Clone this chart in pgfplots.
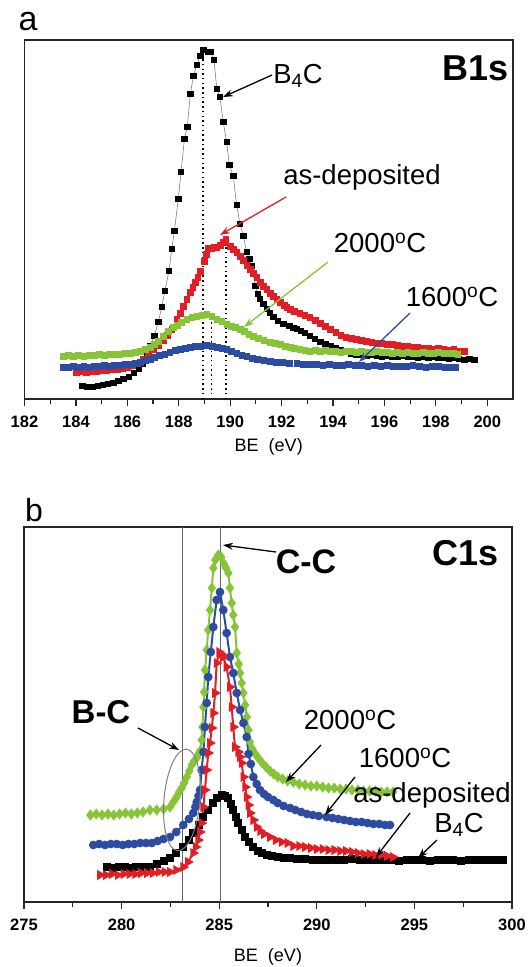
\documentclass[border=0pt]{standalone}
\usepackage{pgfplots}
\pgfplotsset{compat=1.18}
\usepackage{fontspec}
\setmainfont{Liberation Sans}
\usetikzlibrary{arrows.meta}

\definecolor{cred}{RGB}{225,30,35}
\definecolor{cgreen}{RGB}{135,196,55}
\definecolor{cblue}{RGB}{45,75,160}

\pgfplotsset{
  xps/.style={
    scale only axis,
    axis line style={line width=1.3pt, black!85},
    ytick=\empty,
    xtick pos=left,
    xtick align=outside,
    major tick length=7pt,
    minor tick length=5pt,
    tick style={line width=1.2pt, black!85},
    minor x tick num=1,
    xticklabel style={font=\bfseries\fontsize{16.5}{18}\selectfont, yshift=-16pt, anchor=center},
    /pgf/number format/1000 sep={},
    /pgf/number format/assume math mode=true,
    xlabel style={font=\fontsize{18}{20}\selectfont, at={(axis description cs:0.5,0)}, anchor=center},
  },
}

\newcommand{\lbl}{\fontsize{27.5}{29}\selectfont}
\newcommand{\bigbold}{\bfseries\fontsize{36}{38}\selectfont}

\begin{document}
\begin{tikzpicture}
\path[use as bounding box] (0,0) rectangle (531pt,-967pt);

% ---------------- panel a: B1s ----------------
\begin{axis}[xps,
  at={(24.5pt,-40pt)}, anchor=north west,
  width=488.5pt, height=359pt,
  xmin=182, xmax=201, ymin=0, ymax=359,
  xtick={182,184,...,200},
  xlabel={BE\ \ (eV)},
  xlabel style={yshift=-48pt},
]
% B4C
\addplot[gray, line width=0.6pt, mark=square*, mark size=2.7pt,
  mark options={black, solid}] coordinates {
(184.25,13) (184.45,12) (184.65,12) (184.85,13) (185.05,14) (185.25,15)
(185.45,16) (185.65,18) (185.85,20) (186.05,22) (186.25,26) (186.45,30)
(186.6,35) (186.75,44) (186.88,53) (187.05,63) (187.2,77) (187.34,92)
(187.46,108) (187.62,128) (187.73,150) (187.83,168) (187.98,200) (188.09,227)
(188.22,260) (188.33,272) (188.45,305) (188.57,323) (188.70,334) (188.83,343)
(188.95,349) (189.15,347) (189.25,347) (189.37,339) (189.48,310) (189.60,302)
(189.73,277) (189.86,257) (189.97,234) (190.12,223) (190.25,194) (190.38,175)
(190.51,163) (190.64,147) (190.75,140) (190.84,133) (190.97,113) (191.07,105)
(191.16,100) (191.29,95) (191.42,90) (191.55,86) (191.68,82) (191.85,78)
(192.07,75) (192.3,73) (192.45,71) (192.59,70) (192.75,68) (192.9,66)
(193.1,63) (193.3,60) (193.5,57) (193.7,55) (193.9,53) (194.1,51)
(194.3,49) (194.5,47) (194.7,45) (194.9,44) (195.1,44) (195.3,43)
(195.5,44) (195.7,43) (195.9,42) (196.1,43) (196.3,42) (196.5,42)
(196.7,43) (196.9,42) (197.1,42) (197.3,41) (197.5,42) (197.7,41)
(197.9,42) (198.1,41) (198.3,41) (198.5,40) (198.7,41) (198.9,40)
(199.1,39) (199.3,40) (199.5,39)
};
% as-deposited
\addplot[only marks, mark=square*, mark size=2.8pt, cred] coordinates {
(184.0,27) (184.2,28) (184.4,27) (184.6,28) (184.8,28) (185.0,29)
(185.2,29) (185.4,30) (185.6,30) (185.8,31) (186.0,32) (186.2,34)
(186.4,36) (186.6,40) (186.8,45) (187.0,50) (187.2,54) (187.4,59)
(187.55,64) (187.73,70) (187.92,80) (188.05,86) (188.18,93) (188.31,100)
(188.44,107) (188.54,112) (188.63,117) (188.73,122) (188.83,128) (188.98,138)
(189.07,145) (189.15,151) (189.25,151) (189.37,152) (189.48,152) (189.6,154)
(189.72,157) (189.83,160) (190.0,153) (190.12,150) (190.25,147) (190.38,143)
(190.51,139) (190.64,134) (190.77,130) (190.9,126) (191.03,122) (191.16,117)
(191.29,113) (191.42,110) (191.55,106) (191.68,103) (191.81,100) (191.95,97)
(192.1,94) (192.2,92) (192.33,90) (192.5,88) (192.7,86) (192.9,84)
(193.1,82) (193.3,79) (193.5,76) (193.7,73) (193.9,70) (194.1,67)
(194.3,64) (194.5,62) (194.7,61) (194.9,60) (195.1,59) (195.3,58)
(195.5,57) (195.7,56) (195.9,56) (196.1,55) (196.3,55) (196.5,54)
(196.7,53) (196.9,53) (197.1,52) (197.3,52) (197.5,51) (197.7,51)
(197.9,50) (198.1,51) (198.3,50) (198.5,49) (198.7,50) (198.9,48)
(199.1,48)
};
% 2000 C
\addplot[only marks, mark=square*, mark size=2.8pt, cgreen] coordinates {
(183.5,43) (183.7,44) (183.9,43) (184.1,44) (184.3,43) (184.5,44)
(184.7,44) (184.9,45) (185.1,44) (185.3,45) (185.5,45) (185.7,45)
(185.9,46) (186.1,46) (186.3,47) (186.5,48) (186.7,50) (186.88,52)
(187.05,55) (187.2,58) (187.4,63) (187.6,68) (187.79,72) (187.95,74)
(188.1,77) (188.31,80) (188.5,82) (188.7,83) (188.9,84) (189.09,85)
(189.28,83) (189.48,80) (189.67,78) (189.86,75) (190.05,73) (190.2,72)
(190.38,70) (190.55,68) (190.72,65) (190.9,63) (191.1,61) (191.3,59)
(191.55,57) (191.75,56) (191.95,55) (192.15,53) (192.33,52) (192.5,51)
(192.7,50) (192.9,49) (193.1,48) (193.3,49) (193.5,48) (193.7,49)
(193.9,48) (194.1,48) (194.3,47) (194.5,48) (194.7,48) (194.9,47)
(195.1,48) (195.3,47) (195.5,47) (195.7,48) (195.9,47) (196.1,47)
(196.3,46) (196.5,47) (196.7,46) (196.9,47) (197.1,46) (197.3,46)
(197.5,47) (197.7,46) (197.9,46) (198.1,47) (198.3,46) (198.5,46)
(198.7,46) (198.85,45)
};
% 1600 C
\addplot[only marks, mark=square*, mark size=2.8pt, cblue] coordinates {
(183.5,32) (183.7,32) (183.9,33) (184.1,32) (184.3,33) (184.5,32)
(184.7,33) (184.9,33) (185.1,34) (185.3,33) (185.5,34) (185.7,34)
(185.9,35) (186.1,35) (186.3,36) (186.5,37) (186.7,39) (186.88,40)
(187.05,42) (187.25,44) (187.45,45) (187.65,47) (187.85,49) (188.05,50)
(188.25,51) (188.44,52) (188.65,53) (188.85,53) (189.09,54) (189.3,53)
(189.5,52) (189.68,51) (189.86,50) (190.05,48) (190.25,46) (190.45,44)
(190.64,43) (190.85,41) (191.05,40) (191.3,39) (191.55,38) (191.8,37)
(192.05,37) (192.3,36) (192.59,36) (192.85,35) (193.1,35) (193.35,35)
(193.6,34) (193.85,35) (194.1,34) (194.35,34) (194.6,35) (194.85,34)
(195.1,34) (195.35,33) (195.6,34) (195.85,33) (196.1,34) (196.35,33)
(196.6,33) (196.85,33) (197.1,34) (197.35,33) (197.6,32) (197.85,33)
(198.1,33) (198.35,32) (198.6,32) (198.75,32)
};
% peak positions
\addplot[black, line width=1.5pt, dash pattern=on 1.5pt off 3.2pt] coordinates {(188.95,0) (188.95,345)};
\addplot[black, line width=1.5pt, dash pattern=on 1.5pt off 3.2pt] coordinates {(189.28,0) (189.28,86)};
\addplot[black, line width=1.5pt, dash pattern=on 1.5pt off 3.2pt] coordinates {(189.83,0) (189.83,158)};
\end{axis}

\node[font=\fontsize{34}{36}\selectfont] at (28pt,-22pt) {a};
\node[font=\bigbold] at (476pt,-68pt) {B1s};
\node[font=\lbl] at (298pt,-76pt) {B\textsubscript{4}C};
\node[font=\lbl] at (362pt,-177pt) {as-deposited};
\node[font=\lbl] at (380pt,-243pt) {2000\textsuperscript{o}C};
\node[font=\lbl] at (452pt,-297pt) {1600\textsuperscript{o}C};
\draw[black, line width=1.3pt, -{Stealth[length=10pt,width=7pt]}] (272pt,-75pt) -- (223pt,-97pt);
\draw[cred, line width=1.3pt, -{Stealth[length=10pt,width=7pt]}] (286pt,-197pt) -- (220pt,-235pt);
\draw[cgreen, line width=1.3pt, -{Stealth[length=10pt,width=7pt]}] (328pt,-262pt) -- (244pt,-327pt);
\draw[cblue, line width=1.3pt, -{Stealth[length=10pt,width=7pt]}] (410pt,-313pt) -- (359pt,-362pt);

% ---------------- panel b: C1s ----------------
\begin{axis}[xps,
  at={(24pt,-527pt)}, anchor=north west,
  width=488pt, height=375pt,
  xmin=275, xmax=300, ymin=0, ymax=375,
  xtick={275,280,...,300},
  xlabel={BE\ \ (eV)},
  xlabel style={yshift=-55pt},
]
\addplot[gray!80!black, line width=0.8pt] coordinates {(283.1,0) (283.1,375)};
\addplot[gray!80!black, line width=0.8pt] coordinates {(285.05,0) (285.05,375)};
% 2000 C
\addplot[cgreen, line width=2pt, mark=diamond*, mark size=4pt] coordinates {
(278.4,87) (278.7,88) (279.0,87) (279.3,88) (279.6,87) (279.9,88)
(280.2,89) (280.5,88) (280.8,89) (281.1,90) (281.45,92) (281.8,92)
(282.15,93) (282.48,95) (282.65,100) (282.82,105) (282.95,110) (283.08,114)
(283.2,119) (283.34,125) (283.47,131) (283.59,137) (283.72,141) (283.85,144)
(283.94,148) (284.02,151) (284.1,162) (284.14,175) (284.19,195) (284.23,210)
(284.27,232) (284.36,252) (284.44,272) (284.53,292) (284.62,314) (284.7,334)
(284.8,342) (284.95,347) (285.1,345) (285.25,338) (285.35,334) (285.47,329)
(285.55,314) (285.64,299) (285.72,287) (285.81,275) (285.9,249) (286.0,238)
(286.07,229) (286.15,219) (286.24,209) (286.33,197) (286.41,185) (286.5,172)
(286.58,160) (286.7,153) (286.85,148) (287.0,144) (287.2,139) (287.4,135)
(287.6,131) (287.8,128) (288.0,125) (288.25,123) (288.5,121) (288.8,120)
(289.1,118) (289.4,117) (289.7,116) (290.0,116) (290.3,115) (290.6,114)
(290.9,114) (291.2,113) (291.5,113) (291.8,112) (292.1,112) (292.4,111)
(292.7,111) (293.0,111) (293.3,110) (293.6,110) (293.9,110)
};
% 1600 C
\addplot[cblue, line width=2pt, mark=*, mark size=3.3pt] coordinates {
(278.55,57) (278.85,58) (279.15,57) (279.45,58) (279.75,58) (280.05,57)
(280.35,58) (280.65,58) (280.95,59) (281.25,59) (281.55,59) (281.85,61)
(282.15,63) (282.48,65) (282.8,70) (283.16,77) (283.45,83) (283.67,89)
(283.78,95) (283.85,100) (283.94,106) (284.02,112) (284.1,132) (284.19,150)
(284.27,175) (284.36,199) (284.44,225) (284.57,250) (284.7,275) (284.87,302)
(285.04,310) (285.21,292) (285.38,269) (285.55,245) (285.72,229) (285.9,209)
(286.07,192) (286.24,179) (286.41,165) (286.5,148) (286.62,138) (286.75,125)
(286.92,118) (287.09,112) (287.3,108) (287.5,105) (287.77,102) (288.0,99)
(288.3,96) (288.63,94) (288.9,92) (289.2,90) (289.5,88) (289.8,87)
(290.1,86) (290.5,85) (290.8,84) (291.1,83) (291.4,82) (291.7,81)
(292.0,80) (292.3,80) (292.6,79) (292.9,78) (293.2,78) (293.5,77)
(293.75,77)
};
% B4C
\addplot[black, line width=2pt, mark=square*, mark size=3pt] coordinates {
(279.25,35) (279.55,34) (279.85,35) (280.15,35) (280.45,34) (280.75,35)
(281.05,35) (281.45,35) (281.8,38) (282.15,41) (282.48,44) (282.8,49)
(283.16,55) (283.45,62) (283.67,69) (283.95,77) (284.19,85) (284.45,92)
(284.7,99) (284.9,104) (285.13,107) (285.3,106) (285.47,104) (285.6,98)
(285.72,92) (285.85,85) (285.98,79) (286.15,72) (286.32,65) (286.55,60)
(286.75,55) (287.0,51) (287.2,49) (287.43,47) (287.7,46) (288.0,45)
(288.3,44) (288.63,44) (289.0,43) (289.4,43) (289.8,42) (290.2,42)
(290.6,42) (291.0,42) (291.4,42) (291.8,43) (292.2,42) (292.6,42)
(293.0,42) (293.4,42) (293.8,42) (294.2,41) (294.6,42) (295.0,42)
(295.4,42) (295.8,41) (296.2,42) (296.6,42) (297.0,42) (297.4,41)
(297.8,42) (298.2,42) (298.6,42) (299.0,42) (299.3,42) (299.55,42)
};
% as-deposited
\addplot[cred, line width=2pt, mark=triangle*, mark size=3.8pt,
  mark options={rotate=-90}] coordinates {
(278.9,27) (279.2,27) (279.5,28) (279.8,27) (280.1,28) (280.4,28)
(280.7,28) (281.0,29) (281.3,29) (281.6,29) (281.9,30) (282.2,30)
(282.48,30) (282.8,32) (283.16,35) (283.4,40) (283.67,49) (283.8,55)
(283.93,62) (284.02,70) (284.1,79) (284.19,95) (284.27,112) (284.36,132)
(284.44,149) (284.53,159) (284.62,174) (284.7,189) (284.79,209) (284.87,239)
(285.0,250) (285.1,248) (285.21,245) (285.38,235) (285.55,215) (285.64,195)
(285.72,175) (285.81,155) (285.98,150) (286.07,145) (286.15,139) (286.24,125)
(286.33,115) (286.41,105) (286.5,97) (286.58,89) (286.75,82) (286.92,75)
(287.1,71) (287.3,68) (287.6,65) (287.9,62) (288.2,60) (288.5,59)
(288.8,56) (289.1,56) (289.4,55) (289.7,54) (290.0,53) (290.3,53)
(290.6,52) (290.9,52) (291.2,51) (291.5,51) (291.8,50) (292.1,49)
(292.4,48) (292.7,48) (293.0,47) (293.3,47) (293.6,46) (293.9,45)
};
\end{axis}

\node[font=\fontsize{32}{34}\selectfont] at (34pt,-510pt) {b};
\node[font=\bigbold] at (466pt,-553pt) {C1s};
\node[font=\bfseries\fontsize{34}{36}\selectfont] at (306pt,-562pt) {C-C};
\node[font=\bfseries\fontsize{33}{35}\selectfont] at (101pt,-712pt) {B-C};
\draw[gray, line width=1pt, rotate around={-5:(182pt,-800pt)}] (182pt,-800pt) ellipse (18pt and 51pt);
\node[font=\lbl] at (350pt,-720pt) {2000\textsuperscript{o}C};
\node[font=\lbl] at (405pt,-758pt) {1600\textsuperscript{o}C};
\node[font=\lbl] at (432pt,-795pt) {as-deposited};
\node[font=\lbl] at (459pt,-825pt) {B\textsubscript{4}C};
\draw[black, line width=1.3pt, -{Stealth[length=10pt,width=7pt]}] (276pt,-552pt) -- (223pt,-545pt);
\draw[black, line width=1.3pt, -{Stealth[length=10pt,width=7pt]}] (138pt,-728pt) -- (179pt,-750pt);
\draw[black, line width=1.3pt, -{Stealth[length=10pt,width=7pt]}] (321pt,-745pt) -- (286pt,-782pt);
\draw[black, line width=1.3pt, -{Stealth[length=10pt,width=7pt]}] (355pt,-777pt) -- (325pt,-815pt);
\draw[black, line width=1.3pt, -{Stealth[length=10pt,width=7pt]}] (410pt,-813pt) -- (376pt,-857pt);
\draw[black, line width=1.3pt, -{Stealth[length=10pt,width=7pt]}] (437pt,-840pt) -- (418pt,-858pt);
\end{tikzpicture}
\end{document}
